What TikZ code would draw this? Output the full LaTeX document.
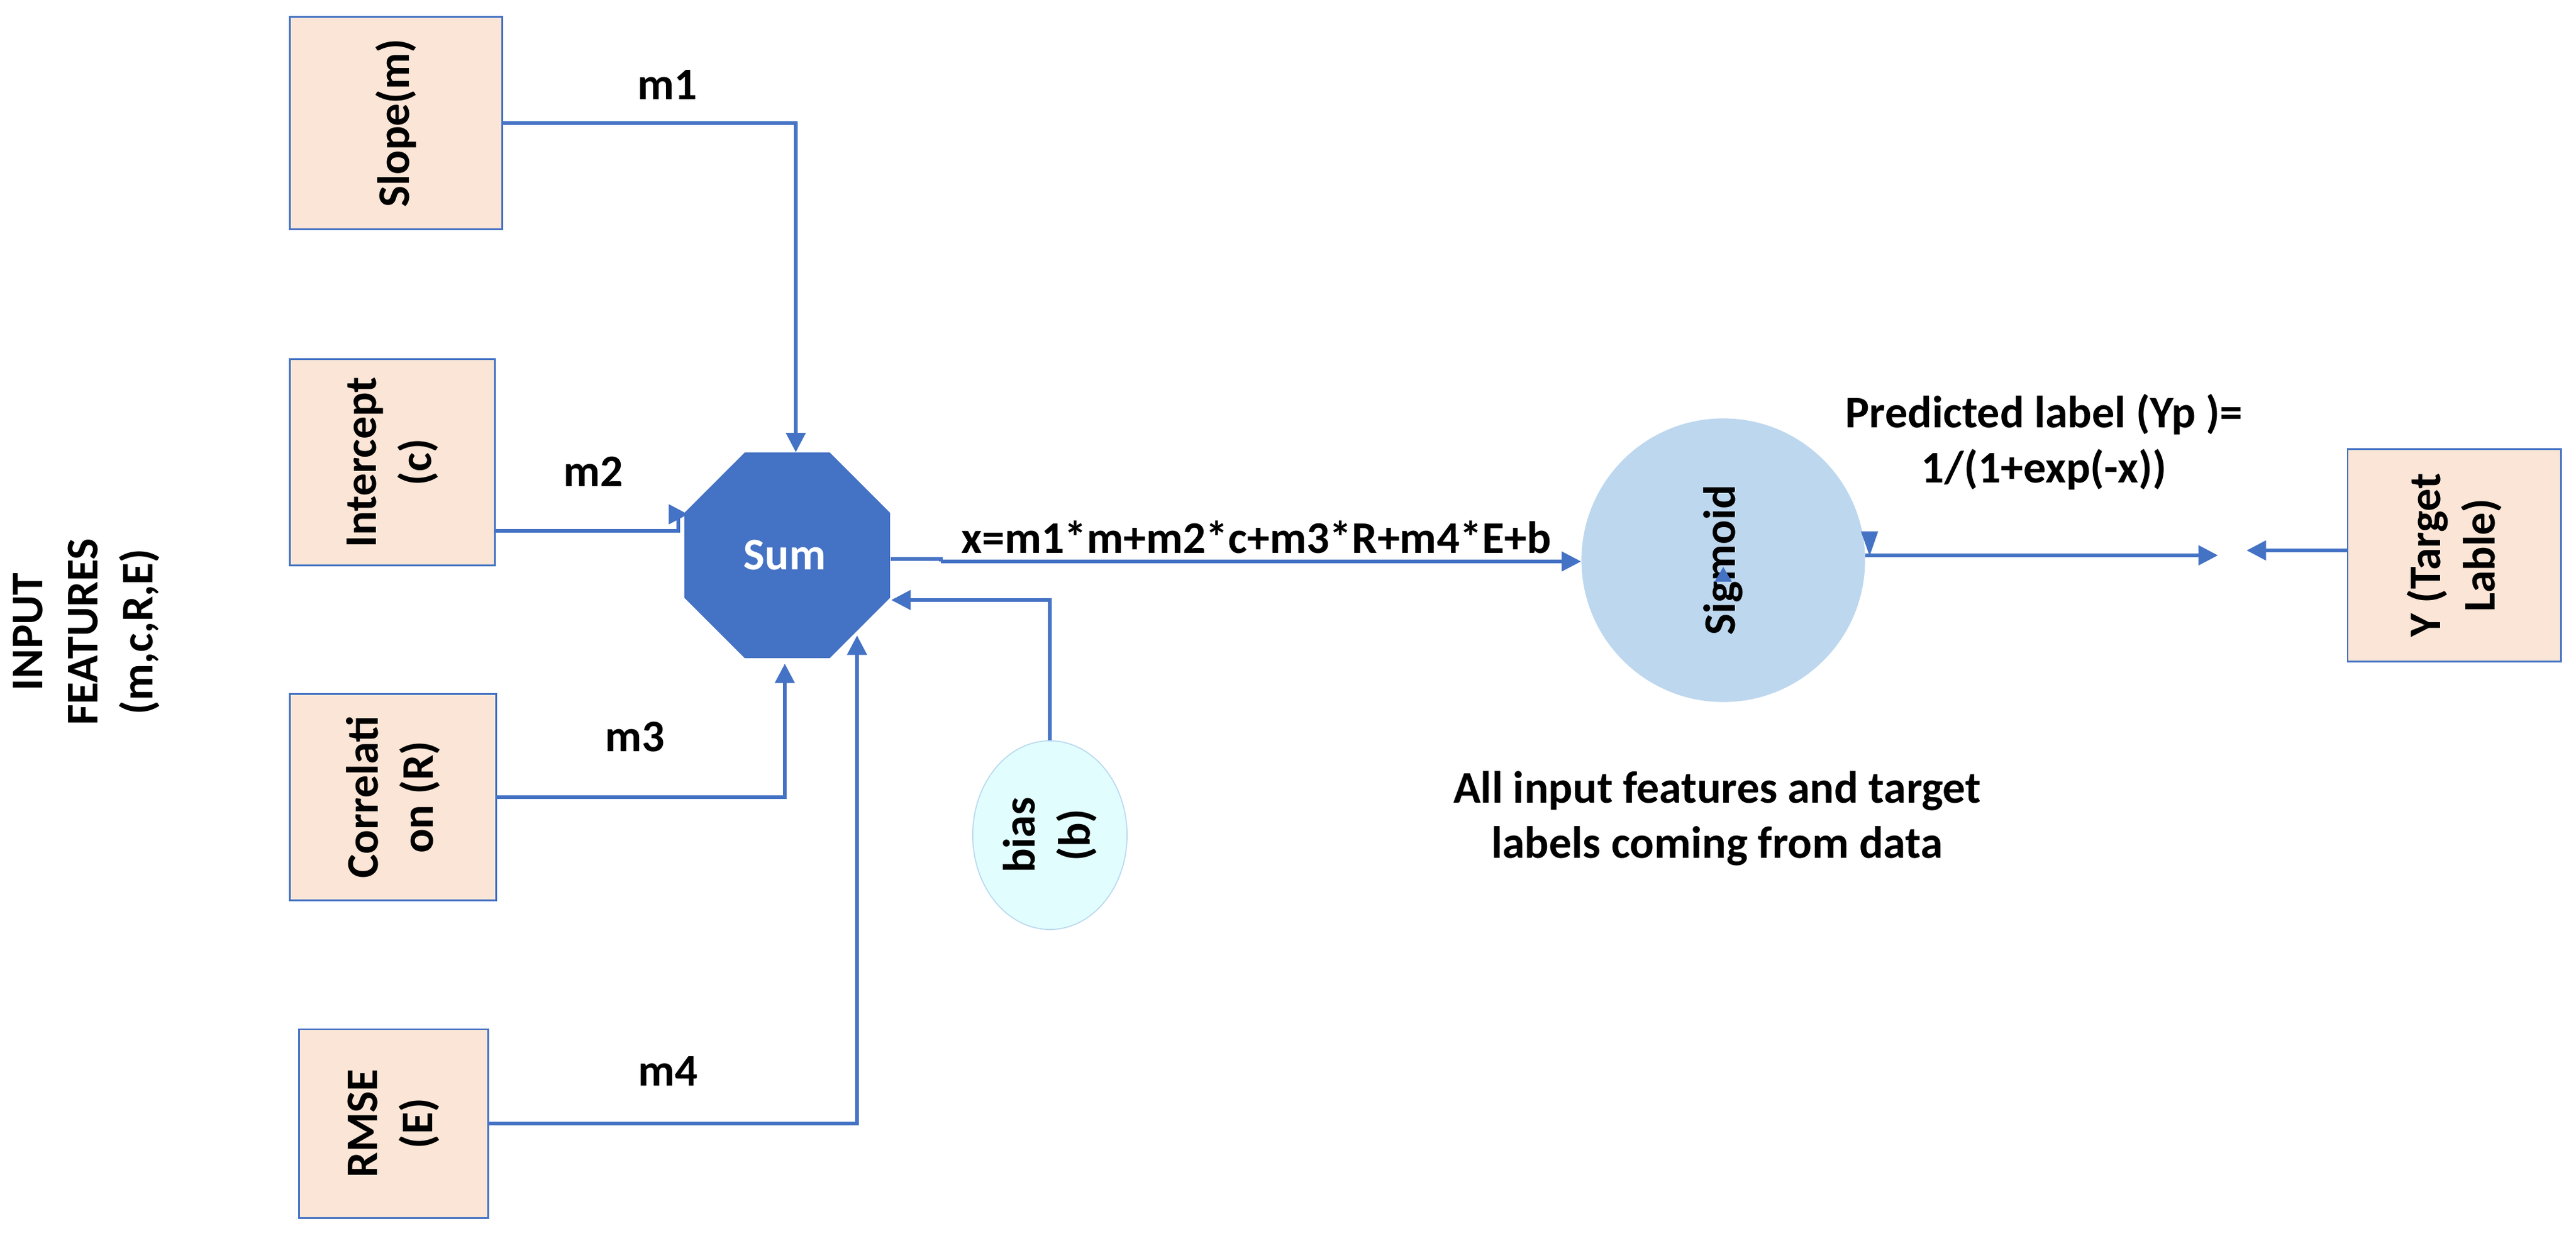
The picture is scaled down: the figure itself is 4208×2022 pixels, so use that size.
\documentclass[tikz,border=0pt]{standalone}
\usepackage{fontspec}
\setmainfont{Carlito}
\usetikzlibrary{shapes.geometric,arrows.meta}
\definecolor{ln}{HTML}{4472C4}
\definecolor{boxf}{HTML}{FBE5D6}
\definecolor{sigf}{HTML}{BDD7EE}
\definecolor{biasf}{HTML}{E2FDFD}
\begin{document}
\begin{tikzpicture}[x=0.01cm,y=-0.01cm,
  font=\fontsize{21}{25.5}\selectfont\bfseries,
  box/.style={draw=ln,line width=0.8pt,fill=boxf,inner sep=0pt},
  txt/.style={align=center,inner sep=0pt},
  rtxt/.style={align=center,inner sep=0pt,rotate=90},
  con/.style={draw=ln,line width=1.5pt},
  arr/.style={con,-{Triangle[length=9pt,width=9pt]}}]
\useasboundingbox (0,0) rectangle (4208,2022);
% input boxes
\node[box,minimum width=3.46cm,minimum height=3.47cm] (slope) at (647,201) {};
\node[rtxt] (slopet) at (slope) {Slope(m)};
\node[box,minimum width=3.35cm,minimum height=3.37cm] (inter) at (641,755) {};
\node[rtxt] (intert) at (inter) {Intercept\\(c)};
\node[box,minimum width=3.37cm,minimum height=3.37cm] (corr) at (642,1302) {};
\node[rtxt] (corrt) at (corr) {Correlati\\on (R)};
\node[box,minimum width=3.09cm,minimum height=3.08cm] (rmse) at (643,1835) {};
\node[rtxt] (rmset) at (rmse) {RMSE\\(E)};
\node[rtxt] (feat) at (141,1032) {INPUT\\FEATURES\\(m,c,R,E)};
% sum
\node[regular polygon,regular polygon sides=8,minimum size=3.63cm,fill=ln,inner sep=0pt] (sum) at (1286,907) {};
\node[txt,text=white] (sumt) at (1282,907) {Sum};
% bias
\node[ellipse,draw=ln!25!biasf,fill=biasf,minimum width=2.52cm,minimum height=3.08cm,line width=0.5pt] (bias) at (1715,1364) {};
\node[rtxt] (biast) at (bias) {bias\\(b)};
% sigmoid
\node[circle,fill=sigf,minimum size=4.63cm,inner sep=0pt] (sig) at (2815,915) {};
\node[rtxt] (sigt) at (sig) {Sigmoid};
% target
\node[box,minimum width=3.48cm,minimum height=3.46cm] (y) at (4009,907) {};
\node[rtxt] (yt) at (y) {Y (Target\\Lable)};
\coordinate (out) at (3623,907);
\coordinate (yin) at (3670,899);
% connectors
\draw[arr] (slope.east) -| (sum.north -| 1300,0);
\draw[con] (inter.east |- 0,867) -| (1108,840);
\draw[arr] (1106,840) -- (1124,840);
\draw[arr] (corr.east) -| (1282,1084);
\draw[arr] (rmse.east) -| (1400,1038);
\draw[arr] (bias.north) |- (1456,980);
\draw[con] (sum.east |- 0,913) -- (1537,913) -- (1537,917);
\draw[arr] (1537,917) -- (sig.west |- 0,917);
\draw[arr] (sig.east |- 0,907) -- (out);
\draw[arr] (y.west |- 0,899) -- (yin);
% stray arrowheads
\fill[ln] (2815,926) -- (2801,950) -- (2829,950) -- cycle;
\fill[ln] (3054,908) -- (3040,868) -- (3068,868) -- cycle;
% labels
\node[txt] (l1) at (1090,139) {m1};
\node[txt] (l2) at (969,770) {m2};
\node[txt] (l3) at (1037,1204) {m3};
\node[txt] (l4) at (1091,1750) {m4};
\node[txt,anchor=west] (eq) at (1570,877) {x=m1*m+m2*c+m3*R+m4*E+b};
\node[txt] (pred) at (3339,722) {Predicted label (Yp )=\\1/(1+exp(-x))};
\node[txt] (note) at (2805,1337) {All input features and target\\labels coming from data};
\end{tikzpicture}
\end{document}
